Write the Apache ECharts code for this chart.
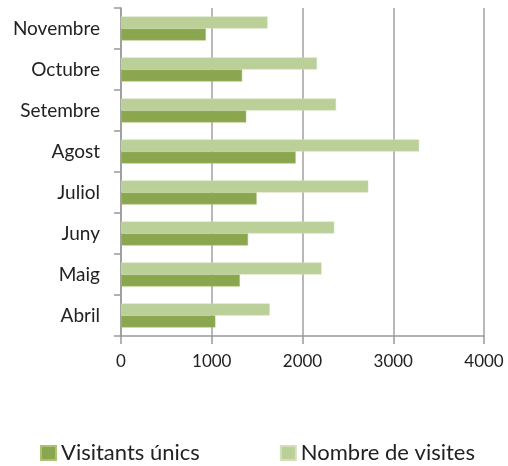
<!DOCTYPE html>
<html><head><meta charset="utf-8">
<script src="https://cdn.jsdelivr.net/npm/echarts@6/dist/echarts.min.js"></script>
<style>html,body{margin:0;padding:0;background:#fff}#c{width:508px;height:466px}</style>
</head><body><div id="c"></div>
<script>
const categories = ['Abril','Maig','Juny','Juliol','Agost','Setembre','Octubre','Novembre'];
const visitantsUnics = [1040, 1310, 1400, 1495, 1925, 1380, 1335, 935];
const nombreVisites = [1640, 2210, 2350, 2725, 3285, 2370, 2160, 1615];
const xTicks = [0, 1000, 2000, 3000, 4000];

const chart = echarts.init(document.getElementById('c'));
const font = 'Lato, "Open Sans", sans-serif';
chart.setOption({
  animation: false,
  grid: {left: 121, right: 24, top: 8, bottom: 130, containLabel: false},
  legend: {
    top: 437, left: 35, padding: 5,
    itemWidth: 15, itemHeight: 14, itemGap: 80,
    icon: 'rect',
    textStyle: {fontFamily: font, fontSize: 22, color: '#222'},
    data: ['Visitants únics', 'Nombre de visites']
  },
  xAxis: {
    type: 'value', min: xTicks[0], max: xTicks[xTicks.length-1], interval: 1000,
    axisLine: {show: true, lineStyle: {color: '#999', width: 1.5}},
    axisTick: {show: true, length: 8, lineStyle: {color: '#999', width: 1.5}},
    splitLine: {show: true, lineStyle: {color: '#a0a0a0', width: 1.5}},
    axisLabel: {fontFamily: font, fontSize: 17, color: '#222', margin: 17,
                formatter: v => String(v)}
  },
  yAxis: {
    type: 'category', data: categories,
    axisLine: {show: true, lineStyle: {color: '#999', width: 1.5}},
    axisTick: {show: true, length: 7, lineStyle: {color: '#999', width: 1.5}},
    axisLabel: {fontFamily: font, fontSize: 19, color: '#222', margin: 21}
  },
  series: [
    {name: 'Nombre de visites', type: 'bar', data: nombreVisites, barWidth: 12, barGap: '0%',
     itemStyle: {color: '#bbcf98', borderColor: '#d3e1bb', borderWidth: 0.5}},
    {name: 'Visitants únics', type: 'bar', data: visitantsUnics, barWidth: 12, barGap: '0%',
     itemStyle: {color: '#8aa64e', borderColor: '#a9c274', borderWidth: 0.5}}
  ]
});
</script></body></html>
